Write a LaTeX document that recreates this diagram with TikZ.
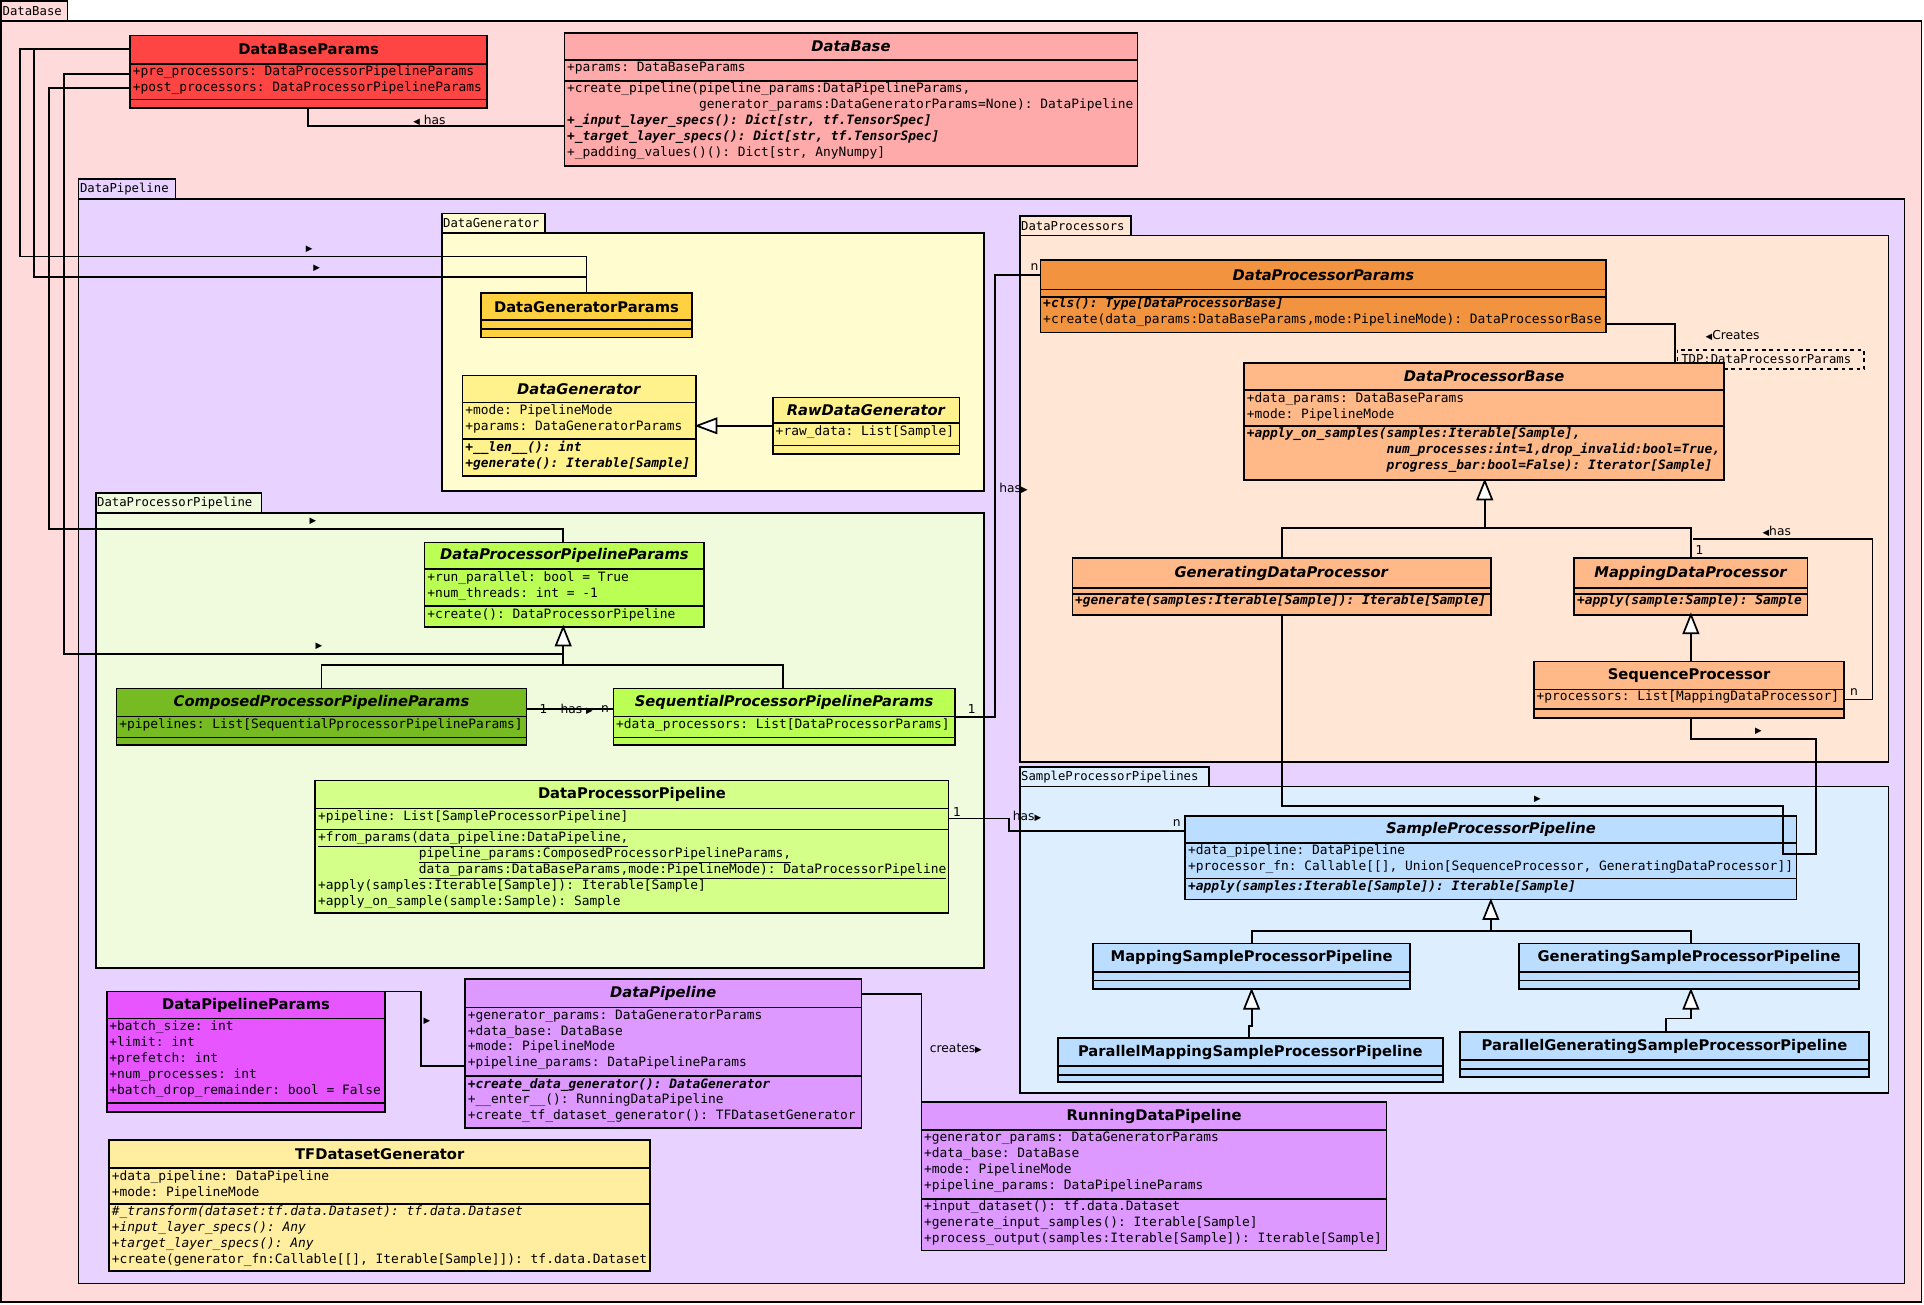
\documentclass[tikz,border=0pt]{standalone}
\usepackage{fontspec}
\setmainfont{DejaVu Sans}
\setmonofont{DejaVu Sans Mono}
\newcommand\bi[1]{\textbf{\textit{#1}}}
\newcommand\spc[1]{\hspace*{#1\dimexpr 0.602em\relax}}
\newcommand\uln[1]{\underline{#1}}
\newcommand\ar[1]{{\fontsize{7}{8}\selectfont#1}}
\definecolor{pk}{HTML}{FFDADA}
\definecolor{dpk}{HTML}{FFE6D5}
\begin{document}
\begin{tikzpicture}[x=1pt,y=-1pt,
  box/.style={draw,line width=1.4pt,inner sep=0pt,outer sep=0pt},
  ttl/.style={font=\fontsize{12}{14}\selectfont\bfseries},
  txt/.style={font=\fontsize{10.5}{13}\ttfamily,align=left,inner xsep=2pt,inner ysep=0.5pt,anchor=north west},
  tab/.style={font=\fontsize{10}{12}\ttfamily,anchor=west,inner sep=1pt},
  lbl/.style={font=\fontsize{10}{12}\selectfont,inner sep=1pt},
  con/.style={line width=1.5pt},
  tri/.style={line width=1.4pt,fill=white}]
\useasboundingbox (0,0) rectangle (1568,1063);
\newcommand\pkg[9]{%
  \definecolor{tmpc}{HTML}{#8}%
  \draw[line width=1.4pt,fill=tmpc] (#2,#3) rectangle (#4,#5);
  \node[tab] at (#2,{(#3+#5)/2}) {#9};
  \node[box,fill=tmpc,minimum width={(#6-#2)*1pt},minimum height={(#7-#5)*1pt},anchor=north west] (#1) at (#2,#5) {};}
\newcommand\cls[9]{%
  \definecolor{tmpc}{HTML}{#8}%
  \node[box,fill=tmpc,minimum width={(#3-#2)*1pt},minimum height={(#7-#4)*1pt},anchor=north west] (#1) at (#2,#4) {};
  \draw[line width=1.4pt] (#2,#5) -- (#3,#5) (#2,#6) -- (#3,#6);
  \node[ttl] at ({(#2+#3)/2},{(#4+#5)/2}) {#9};}
\newcommand\tx[3]{\node[txt] at (#1,#2) {#3};}
% packages
\pkg{pDB}{1}{1}{55}{17}{1566}{1061}{FFDADA}{DataBase}
\pkg{pDP}{64}{146}{143}{162}{1552}{1046}{E8D2FF}{DataPipeline}
\pkg{pDG}{360}{174}{444}{190}{802}{400}{FFFDD0}{DataGenerator}
\pkg{pDPr}{831}{176}{922}{192}{1539}{621}{FFE6D5}{DataProcessors}
\pkg{pDPP}{78}{402}{213}{418}{802}{789}{F0FADC}{DataProcessorPipeline}
\pkg{pSPP}{831}{625}{985}{641}{1539}{891}{DDEEFF}{SampleProcessorPipelines}
% classes
\cls{dbp}{106}{397}{29}{52}{81}{88}{FF4444}{DataBaseParams}
\tx{106}{53}{+pre\_processors: DataProcessorPipelineParams\\+post\_processors: DataProcessorPipelineParams}
\cls{db}{460}{927}{27}{49}{66}{135}{FFAAAA}{\textit{DataBase}}
\tx{460}{50}{+params: DataBaseParams}
\tx{460}{67}{+create\_pipeline(pipeline\_params:DataPipelineParams,\\\spc{17}generator\_params:DataGeneratorParams=None): DataPipeline\\\bi{+\_input\_layer\_specs(): Dict[str, tf.TensorSpec]}\\\bi{+\_target\_layer\_specs(): Dict[str, tf.TensorSpec]}\\+\_padding\_values()(): Dict[str, AnyNumpy]}
\cls{dgp}{392}{564}{239}{261}{268}{275}{FFD040}{DataGeneratorParams}
\cls{dg}{377}{567}{306}{328}{358}{388}{FFF28C}{\textit{DataGenerator}}
\tx{377}{329}{+mode: PipelineMode\\+params: DataGeneratorParams}
\tx{377}{359}{\bi{+\_\_len\_\_(): int}\\\bi{+generate(): Iterable[Sample]}}
\cls{rdg}{630}{782}{324}{345}{363}{370}{FFF28C}{\textit{RawDataGenerator}}
\tx{630}{346}{+raw\_data: List[Sample]}
\cls{dppp}{346}{574}{442}{464}{494}{511}{BBFF55}{\textit{DataProcessorPipelineParams}}
\tx{346}{465}{+run\_parallel: bool = True\\+num\_threads: int = -1}
\tx{346}{495}{+create(): DataProcessorPipeline}
\cls{cppp}{95}{429}{561}{584}{601}{607}{77BB22}{\textit{ComposedProcessorPipelineParams}}
\tx{95}{585}{+pipelines: List[SequentialPprocessorPipelineParams]}
\cls{sppp}{500}{778}{561}{584}{601}{607}{BBFF55}{\textit{SequentialProcessorPipelineParams}}
\tx{500}{585}{+data\_processors: List[DataProcessorParams]}
\cls{dpp}{257}{773}{636}{659}{676}{744}{D4FF88}{DataProcessorPipeline}
\tx{257}{660}{+pipeline: List[SampleProcessorPipeline]}
\tx{257}{677}{\uln{+from\_params(data\_pipeline:DataPipeline,}\\\spc{13}\uln{pipeline\_params:ComposedProcessorPipelineParams,}\\\spc{13}\uln{data\_params:DataBaseParams,mode:PipelineMode): DataProcessorPipeline}\\+apply(samples:Iterable[Sample]): Iterable[Sample]\\+apply\_on\_sample(sample:Sample): Sample}
\cls{dplp}{87}{314}{808}{830}{899}{906}{E655FF}{DataPipelineParams}
\tx{87}{831}{+batch\_size: int\\+limit: int\\+prefetch: int\\+num\_processes: int\\+batch\_drop\_remainder: bool = False}
\cls{dpl}{379}{702}{798}{821}{877}{919}{DD99FF}{\textit{DataPipeline}}
\tx{379}{822}{+generator\_params: DataGeneratorParams\\+data\_base: DataBase\\+mode: PipelineMode\\+pipeline\_params: DataPipelineParams}
\tx{379}{878}{\bi{+create\_data\_generator(): DataGenerator}\\+\_\_enter\_\_(): RunningDataPipeline\\+create\_tf\_dataset\_generator(): TFDatasetGenerator}
\cls{tfdg}{89}{530}{929}{952}{981}{1036}{FFEEA0}{TFDatasetGenerator}
\tx{89}{953}{+data\_pipeline: DataPipeline\\+mode: PipelineMode}
\tx{89}{982}{\textit{\#\_transform(dataset:tf.data.Dataset): tf.data.Dataset}\\\textit{+input\_layer\_specs(): Any}\\\textit{+target\_layer\_specs(): Any}\\+create(generator\_fn:Callable[[], Iterable[Sample]]): tf.data.Dataset}
\cls{rdp}{751}{1130}{898}{921}{977}{1019}{DD99FF}{RunningDataPipeline}
\tx{751}{922}{+generator\_params: DataGeneratorParams\\+data\_base: DataBase\\+mode: PipelineMode\\+pipeline\_params: DataPipelineParams}
\tx{751}{978}{+input\_dataset(): tf.data.Dataset\\+generate\_input\_samples(): Iterable[Sample]\\+process\_output(samples:Iterable[Sample]): Iterable[Sample]}
\cls{dprp}{848}{1309}{212}{236}{242}{271}{F29340}{\textit{DataProcessorParams}}
\tx{848}{242}{\bi{+cls(): Type[DataProcessorBase]}\\+create(data\_params:DataBaseParams,mode:PipelineMode): DataProcessorBase}
\draw[line width=1.4pt,dashed,fill=dpk] (1367,285) rectangle (1519,301);
\node[font=\fontsize{10}{12}\ttfamily,anchor=west,inner sep=1pt] (tdp) at (1369,293) {TDP:DataProcessorParams};
\cls{dpb}{1014}{1405}{296}{318}{347}{391}{FFB988}{\textit{DataProcessorBase}}
\tx{1014}{319}{+data\_params: DataBaseParams\\+mode: PipelineMode}
\tx{1014}{348}{\bi{+apply\_on\_samples(samples:Iterable[Sample],}\\\spc{18}\bi{num\_processes:int=1,drop\_invalid:bool=True,}\\\spc{18}\bi{progress\_bar:bool=False): Iterator[Sample]}}
\cls{gdp}{874}{1215}{455}{479}{484}{501}{FFB988}{\textit{GeneratingDataProcessor}}
\tx{874}{484}{\bi{+generate(samples:Iterable[Sample]): Iterable[Sample]}}
\cls{mdp}{1283}{1473}{455}{479}{484}{501}{FFB988}{\textit{MappingDataProcessor}}
\tx{1283}{484}{\bi{+apply(sample:Sample): Sample}}
\cls{sp}{1250}{1503}{539}{562}{578}{585}{FFB988}{SequenceProcessor}
\tx{1250}{562}{+processors: List[MappingDataProcessor]}
\cls{spp}{966}{1464}{665}{687}{716}{733}{BBDDFF}{\textit{SampleProcessorPipeline}}
\tx{966}{688}{+data\_pipeline: DataPipeline\\+processor\_fn: Callable[[], Union[SequenceProcessor, GeneratingDataProcessor]]}
\tx{966}{717}{\bi{+apply(samples:Iterable[Sample]): Iterable[Sample]}}
\cls{mspp}{891}{1149}{769}{792}{799}{806}{BBDDFF}{MappingSampleProcessorPipeline}
\cls{gspp}{1238}{1515}{769}{792}{799}{806}{BBDDFF}{GeneratingSampleProcessorPipeline}
\cls{pmspp}{862}{1176}{846}{869}{876}{882}{BBDDFF}{ParallelMappingSampleProcessorPipeline}
\cls{pgspp}{1190}{1523}{841}{864}{871}{878}{BBDDFF}{ParallelGeneratingSampleProcessorPipeline}
% connectors
\draw[con] (251,88) -- (251,103) -- (460,103);
\node[lbl] at (350,98) {\ar{◀} has};
\draw[con] (106,40) -- (16,40) -- (16,209) -- (478,209) -- (478,239);
\draw[con] (106,40) -- (28,40) -- (28,226) -- (478,226);
\node[lbl] at (252,203) {\ar{▶}};
\node[lbl] at (258,219) {\ar{▶}};
\draw[con] (106,60) -- (52,60) -- (52,533) -- (459,533);
\node[lbl] at (260,527) {\ar{▶}};
\draw[con] (106,72) -- (40,72) -- (40,431) -- (459,431) -- (459,442);
\node[lbl] at (255,425) {\ar{▶}};
\draw[con] (262,561) -- (262,542) -- (638,542) -- (638,561);
\draw[con] (459,542) -- (459,526);
\draw[tri] (459,511) -- (453,526) -- (465,526) -- cycle;
\draw[con] (429,578) -- (500,578);
\node[lbl] at (443,578) {1};
\node[lbl] at (470,578) {has \ar{▶}};
\node[lbl] at (493,578) {n};
\draw[con] (778,584) -- (811,584) -- (811,224) -- (848,224);
\node[lbl] at (792,578) {1};
\node[lbl] at (843,218) {n};
\node[lbl] at (826,398) {has\ar{▶}};
\draw[con] (773,667) -- (822,667) -- (822,677) -- (966,677);
\node[lbl] at (780,662) {1};
\node[lbl] at (837,665) {has\ar{▶}};
\node[lbl] at (959,671) {n};
\draw[con] (1309,264) -- (1365,264) -- (1365,296);
\node[lbl] at (1412,273) {\ar{◀}Creates};
\draw[tri] (1210,392) -- (1204,407) -- (1216,407) -- cycle;
\draw[con] (1210,407) -- (1210,430) (1045,455) -- (1045,430) -- (1378,430) -- (1378,455);
\draw[tri] (1378,501) -- (1372,516) -- (1384,516) -- cycle;
\draw[con] (1378,516) -- (1378,539);
\draw[con] (1503,570) -- (1526,570) -- (1526,439) -- (1380,439);
\node[lbl] at (1511,564) {n};
\node[lbl] at (1385,448) {1};
\node[lbl] at (1448,433) {\ar{◀}has};
\draw[con] (1045,501) -- (1045,657) -- (1453,657) -- (1453,696) -- (1480,696) -- (1480,602) -- (1378,602) -- (1378,585);
\node[lbl] at (1253,651) {\ar{▶}};
\node[lbl] at (1433,596) {\ar{▶}};
\draw[tri] (1215,734) -- (1209,749) -- (1221,749) -- cycle;
\draw[con] (1215,749) -- (1215,759) (1020,769) -- (1020,759) -- (1378,759) -- (1378,769);
\draw[tri] (1020,807) -- (1014,822) -- (1026,822) -- cycle;
\draw[con] (1020,822) -- (1020,836) -- (1018,836) -- (1018,846);
\draw[tri] (1378,807) -- (1372,822) -- (1384,822) -- cycle;
\draw[con] (1378,822) -- (1378,830) -- (1358,830) -- (1358,841);
\draw[tri] (568,347) -- (584,341) -- (584,353) -- cycle;
\draw[con] (584,347) -- (630,347);
\draw[con] (314,808) -- (343,808) -- (343,869) -- (379,869);
\node[lbl] at (348,832) {\ar{▶}};
\draw[con] (702,810) -- (751,810) -- (751,898);
\node[lbl] at (779,855) {creates\ar{▶}};
\end{tikzpicture}
\end{document}
